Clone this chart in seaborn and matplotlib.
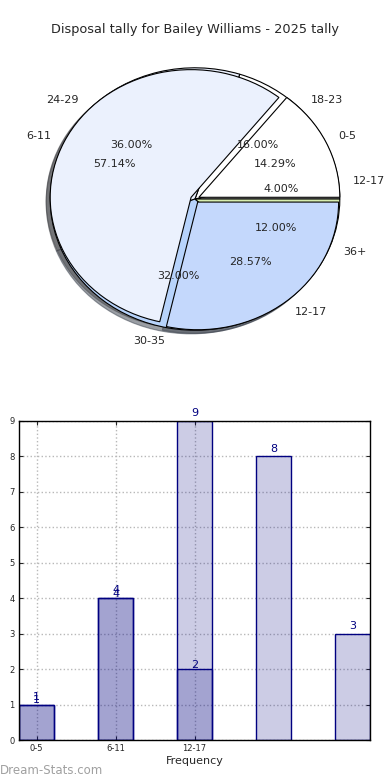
import matplotlib
matplotlib.use("Agg")
import matplotlib.pyplot as plt
import seaborn as sns

sns.set_style("white")
plt.rcParams["font.family"] = ["DejaVu Sans"]

title = "Disposal tally for Bailey Williams - 2025 tally"
groups_a = ["12-17", "18-23", "24-29", "30-35", "36+"]
counts_a = [1, 4, 9, 8, 3]
groups_b = ["0-5", "6-11", "12-17"]
counts_b = [1, 4, 2]

colors_a = ["#ffffff", "#ffffff", "#eaf0fd", "#b7d3fb", "#d8eeb0"]
colors_b = ["#ffffff", "#ebf1fd", "#c4d8fc"]
bar_edge = "navy"
bar_face = (0.0, 0.0, 0.5, 0.2)

fig = plt.figure(figsize=(3.9, 7.8), dpi=100)
fig.text(0.5, 1 - 30 / 780, title, ha="center", va="center", fontsize=9.3)

# overlaid pies for the two tallies
ax_pie = fig.add_axes([14 / 390, 1 - 363 / 780, 362 / 390, 328 / 780])
pie_kw = dict(startangle=0, shadow=True, autopct="%.2f%%",
              textprops={"fontsize": 8},
              wedgeprops={"edgecolor": "black", "linewidth": 0.8})
ax_pie.pie(counts_a, labels=groups_a, colors=colors_a, **pie_kw)
ax_pie.pie(counts_b, labels=groups_b, colors=colors_b, radius=0.973,
           explode=[0.03] * len(counts_b), **pie_kw)
ax_pie.set_aspect("auto")
ax_pie.set_xlim(-1.25, 1.25)
ax_pie.set_ylim(-1.25, 1.25)

# overlaid bars
ax_bar = fig.add_axes([19 / 390, 1 - 740 / 780, 351 / 390, 319 / 780])
pos_a = list(range(len(counts_a)))
pos_b = list(range(len(counts_b)))
sns.barplot(x=pos_a, y=counts_a, native_scale=True, width=0.45, errorbar=None,
            saturation=1, color="navy", ax=ax_bar)
sns.barplot(x=pos_b, y=counts_b, native_scale=True, width=0.45, errorbar=None,
            saturation=1, color="navy", ax=ax_bar)
for p in ax_bar.patches:
    p.set_facecolor(bar_face)
    p.set_edgecolor(bar_edge)
    p.set_linewidth(1)

for x, v in zip(pos_a, counts_a):
    ax_bar.text(x, v + 0.08, str(v), ha="center", va="bottom", color="navy", fontsize=8)
for x, v in zip(pos_b, counts_b):
    ax_bar.text(x, v - 0.02, str(v), ha="center", va="bottom", color="navy", fontsize=8)

ax_bar.set_xlim(-0.225, 4.225)
ax_bar.set_ylim(0, 9)
ax_bar.set_yticks(range(10))
ax_bar.set_xticks(pos_b)
ax_bar.set_xticklabels(groups_b)
ax_bar.tick_params(labelsize=6, direction="in", top=True, right=True, length=3,
                   left=True, bottom=True, pad=3)
ax_bar.grid(True, linestyle=":", color="#b8b8b8", linewidth=1)
ax_bar.set_axisbelow(True)
for s in ax_bar.spines.values():
    s.set_color("black")
    s.set_linewidth(1)
ax_bar.set_xlabel("Frequency", fontsize=8, labelpad=2)
ax_bar.set_ylabel("")

fig.text(0.0, 1 - 770 / 780, "Dream-Stats.com", color="#a0a0a0", fontsize=8.5,
         ha="left", va="center")

fig.savefig("out.png", dpi=100)
